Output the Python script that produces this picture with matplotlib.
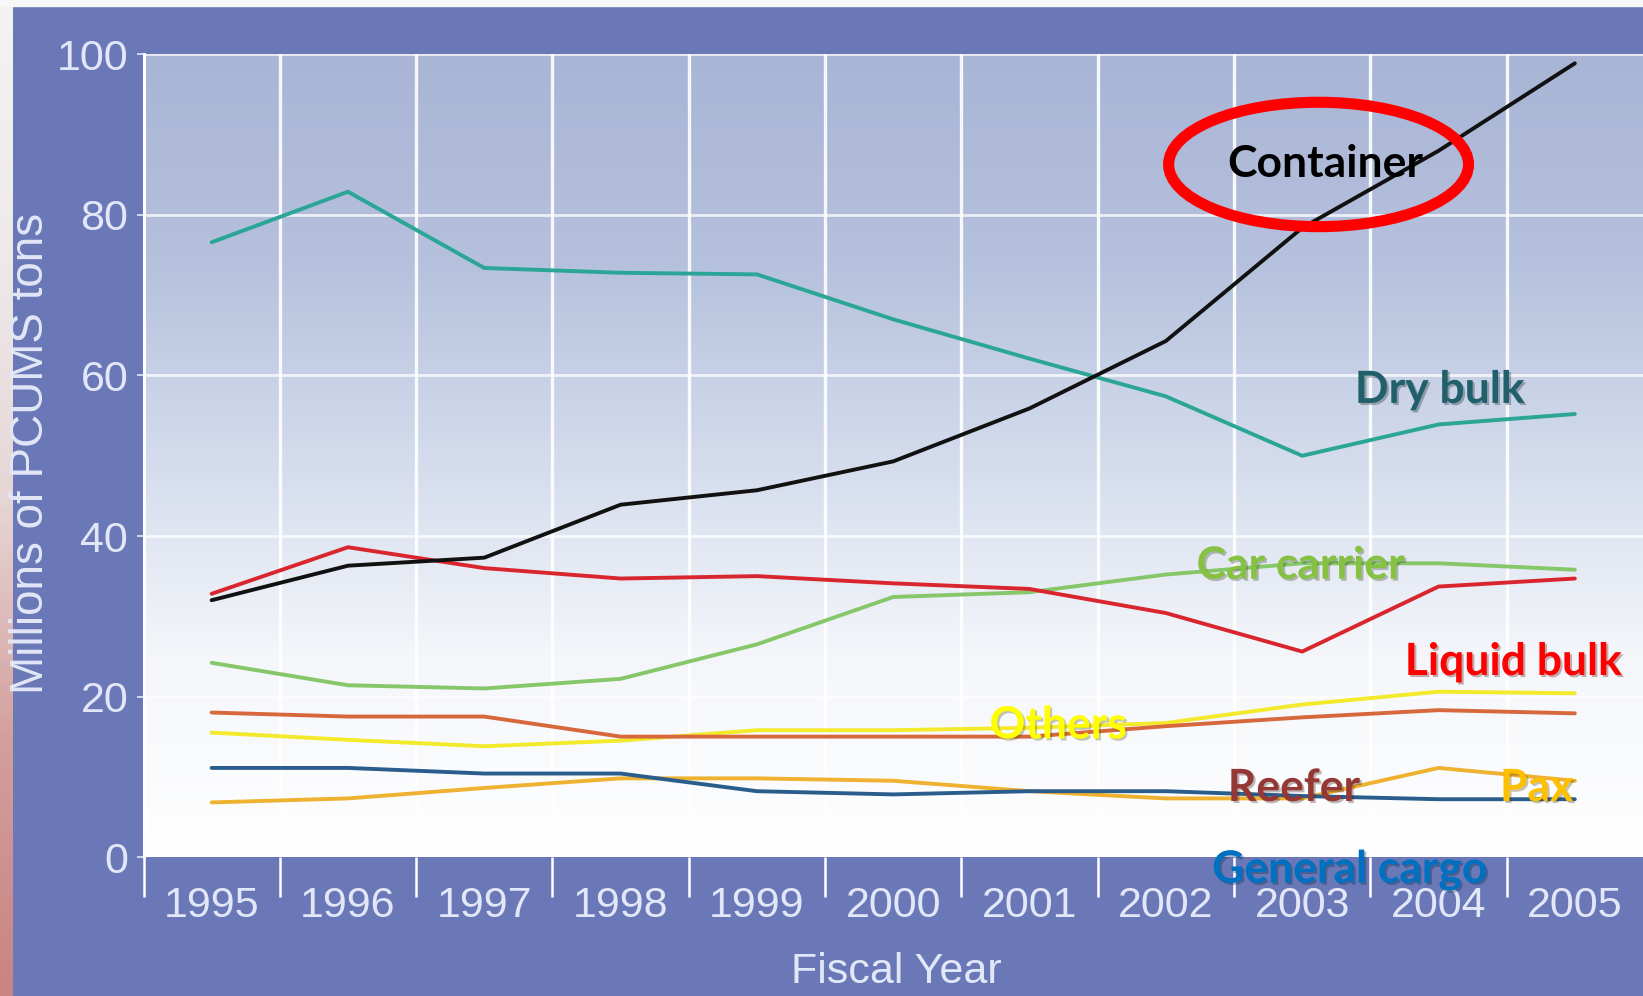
import matplotlib.pyplot as plt
import matplotlib.patheffects as pe
from matplotlib.colors import LinearSegmentedColormap
from matplotlib.patches import Ellipse, Rectangle
import numpy as np

years = [1995, 1996, 1997, 1998, 1999, 2000, 2001, 2002, 2003, 2004, 2005]

container = [32.0, 36.3, 37.3, 43.9, 45.7, 49.3, 55.9, 64.3, 78.4, 88.0, 98.9]
dry_bulk = [76.6, 82.9, 73.4, 72.8, 72.6, 67.0, 62.1, 57.4, 50.0, 53.9, 55.2]
liquid_bulk = [32.8, 38.6, 36.0, 34.7, 35.0, 34.1, 33.4, 30.4, 25.6, 33.7, 34.7]
car_carrier = [24.2, 21.4, 21.0, 22.2, 26.5, 32.4, 33.0, 35.2, 36.6, 36.6, 35.8]
reefer = [18.0, 17.5, 17.5, 15.0, 15.0, 15.0, 15.0, 16.3, 17.4, 18.3, 17.9]
others = [15.5, 14.6, 13.8, 14.5, 15.8, 15.8, 16.1, 16.7, 19.0, 20.6, 20.4]
general_cargo = [11.1, 11.1, 10.4, 10.4, 8.2, 7.8, 8.2, 8.2, 7.6, 7.2, 7.2]
pax = [6.8, 7.3, 8.6, 9.8, 9.8, 9.5, 8.2, 7.3, 7.3, 11.1, 9.5]

frame_blue = "#6a78b8"
tick_col = "#e2e7f7"
tick_font = ["Liberation Sans", "DejaVu Sans"]

fig = plt.figure(figsize=(16.43, 9.96), dpi=100)
fig.patch.set_facecolor(frame_blue)

# photo edge on the left and white strip on top
strip = fig.add_axes([0, 0, 13 / 1643, 1])
strip.imshow(np.linspace(0, 1, 200).reshape(-1, 1), aspect="auto",
             cmap=LinearSegmentedColormap.from_list("s", ["#f4f2f2", "#eeeaea", "#e6d6d6", "#d39e9c", "#c98482"]))
strip.axis("off")
fig.patches.append(Rectangle((0, 1 - 6 / 996), 1, 6 / 996, transform=fig.transFigure,
                             color="#f7f7f7", zorder=5))

ax = fig.add_axes([143.5 / 1643, 139 / 996, 1 - 143.5 / 1643, 802.5 / 996])
ax.set_xlim(1994.5, 2005.5)
ax.set_ylim(0, 100)

grad = np.linspace(1, 0, 256).reshape(-1, 1)
bg = LinearSegmentedColormap.from_list("bg", ["#ffffff", "#f4f6fa", "#d3dbec", "#b4c0dc", "#a9b5d5"])
ax.imshow(grad, extent=[1994.5, 2005.5, 0, 100], aspect="auto", cmap=bg, zorder=0)

for x in np.arange(1995.5, 2005, 1):
    ax.axvline(x, color="white", lw=2.4, alpha=0.9, zorder=1)
for y in [20, 40, 60, 80, 100]:
    ax.axhline(y, color="white", lw=2.0, alpha=0.75, zorder=1)

series = [
    (dry_bulk, "#2aa596"),
    (car_carrier, "#86c76a"),
    (others, "#f3ea2c"),
    (reefer, "#d6683c"),
    (pax, "#efb130"),
    (general_cargo, "#2b5d8c"),
    (liquid_bulk, "#d9262e"),
    (container, "#111111"),
]
for vals, col in series:
    ax.plot(years, vals, color=col, lw=2.8, solid_joinstyle="round", solid_capstyle="round", zorder=3)

for s in ["top", "right", "bottom"]:
    ax.spines[s].set_visible(False)
ax.spines["left"].set_color("white")
ax.spines["left"].set_linewidth(2.2)

ax.set_xticks(np.arange(1994.5, 2005, 1))
ax.set_xticklabels([])
ax.set_xticks(years, minor=True)
ax.set_xticklabels([str(y) for y in years], minor=True)
ax.tick_params(axis="x", which="major", direction="out", length=29, width=1.8, color="white")
ax.tick_params(axis="x", which="minor", length=0, pad=21, labelsize=31, labelcolor=tick_col)
ax.set_yticks([0, 20, 40, 60, 80, 100])
ax.tick_params(axis="y", direction="out", length=5, width=1.2, color=tick_col, pad=6,
               labelsize=31, labelcolor=tick_col)
for lab in ax.get_xticklabels(minor=True) + ax.get_yticklabels():
    lab.set_family(tick_font)

fig.text(31 / 1643, 1 - 453 / 996, "Millions of PCUMS tons", rotation=90, ha="center", va="center",
         fontsize=33, color=tick_col, family=tick_font)
fig.text(896 / 1643, 1 - 972 / 996, "Fiscal Year", ha="center", va="center",
         fontsize=31, color=tick_col, family=tick_font)

# callout labels
shadow = [pe.SimplePatchShadow(offset=(1.5, -1.5), alpha=0.3), pe.Normal()]
labels = [
    ("Container", 2003.17, 86.3, "black", []),
    ("Dry bulk", 2004.01, 58.2, "#215f6b", shadow),
    ("Car carrier", 2002.99, 36.3, "#86c142", shadow),
    ("Liquid bulk", 2004.55, 24.3, "#ff0000", shadow),
    ("Others", 2001.21, 16.4, "#ffff00", shadow),
    ("Reefer", 2002.94, 8.6, "#953735", shadow),
    ("Pax", 2004.72, 8.6, "#ffc000", shadow),
    ("General cargo", 2003.35, -1.6, "#0070c0", shadow),
]
for txt, x, y, col, eff in labels:
    ax.text(x, y, txt, color=col, fontsize=32, fontweight="bold", family=["Lato", "DejaVu Sans"],
            ha="center", va="center", zorder=6, clip_on=False, path_effects=eff)

ax.add_patch(Ellipse((2003.12, 86.3), 2.2, 15.5, fill=False, edgecolor="#ff0000", lw=8, zorder=7))

fig.savefig("out.png", dpi=100, facecolor=fig.get_facecolor())
